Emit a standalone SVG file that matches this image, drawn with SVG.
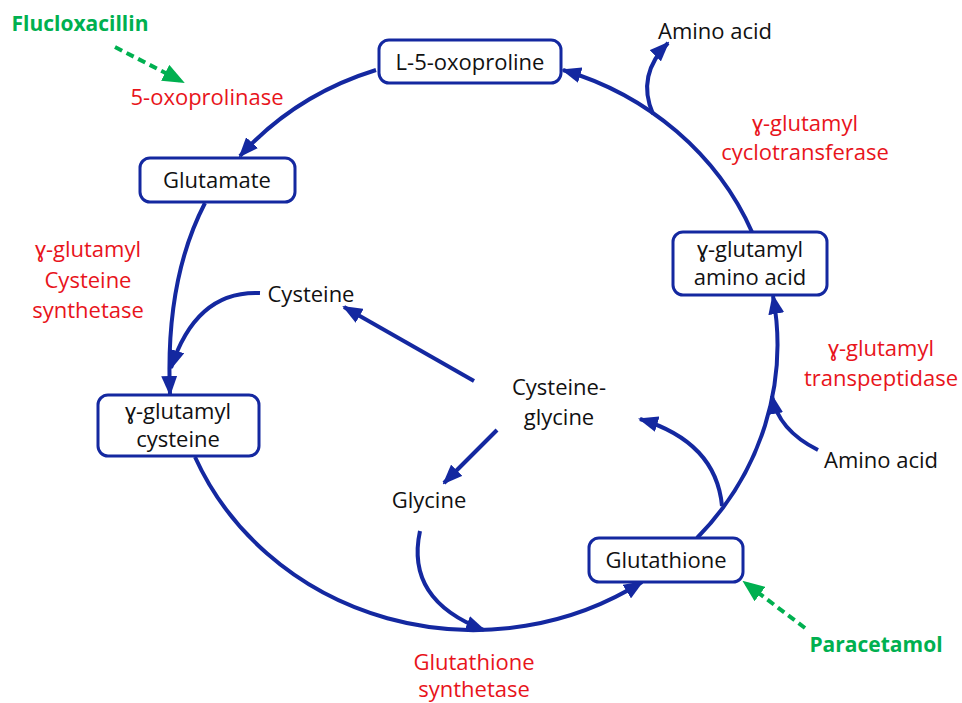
<svg xmlns="http://www.w3.org/2000/svg" width="962" height="703" viewBox="0 0 962 703">
<defs>
<style>
.t{font-family:"Open Sans","Liberation Sans",sans-serif;font-size:22px;fill:#111;text-anchor:middle}
.r{fill:#E8141B}
.g{fill:#00B050;font-weight:bold;font-size:21px}
.box{fill:#fff;stroke:#1428A0;stroke-width:3}
.c{fill:none;stroke:#1428A0;stroke-width:4}
.d{fill:none;stroke:#00B050;stroke-width:4;stroke-dasharray:8 5}
</style>
<marker id="ab" markerUnits="userSpaceOnUse" markerWidth="20" markerHeight="16" refX="18" refY="8" orient="auto"><path d="M0,0 L20,8 L0,16 z" fill="#1428A0"/></marker>
<marker id="ag" markerUnits="userSpaceOnUse" markerWidth="22" markerHeight="18" refX="20" refY="9" orient="auto"><path d="M0,0 L22,9 L0,18 z" fill="#00B050"/></marker>
</defs>
<rect width="962" height="703" fill="#fff"/>
<g id="connectors">
<path class="c" d="M195,457 A303,285 0 0 0 642,582" marker-end="url(#ab)"/>
<path class="c" d="M697,538 A303,285 0 0 0 773,296" marker-end="url(#ab)"/>
<path class="c" d="M752,232 A303,285 0 0 0 563,70" marker-end="url(#ab)"/>
<path class="c" d="M376,70 A303,285 0 0 0 240,156" marker-end="url(#ab)"/>
<path class="c" d="M205,203 Q165,280 170,394" marker-end="url(#ab)"/>
<path class="c" d="M653,114 Q636,75 668,43" marker-end="url(#ab)"/>
<path class="c" d="M818,450 Q778,430 772,396" marker-end="url(#ab)"/>
<path class="c" d="M260,293 Q196,290 171,368" marker-end="url(#ab)"/>
<path class="c" d="M474,381 L344,307" marker-end="url(#ab)"/>
<path class="c" d="M497,430 L444,483" marker-end="url(#ab)"/>
<path class="c" d="M420,531 Q405,600 484,630" marker-end="url(#ab)"/>
<path class="c" d="M722,506 Q716,442 640,419" marker-end="url(#ab)"/>
<path class="d" d="M115,47 L183,82" marker-end="url(#ag)"/>
<path class="d" d="M805,628 L744,582" marker-end="url(#ag)"/>
</g>
<g id="n-oxoproline"><rect class="box" x="379" y="40" width="182" height="43" rx="10"/><text class="t" x="470" y="70">L-5-oxoproline</text></g>
<g id="n-glutamate"><rect class="box" x="140" y="158" width="155" height="44" rx="10"/><text class="t" x="217" y="188">Glutamate</text></g>
<g id="n-gglucys"><rect class="box" x="98" y="395" width="161" height="61" rx="10"/><text class="t" x="178" y="419">ɣ-glutamyl</text><text class="t" x="178" y="447">cysteine</text></g>
<g id="n-gluaa"><rect class="box" x="673" y="232" width="154" height="63" rx="10"/><text class="t" x="750" y="257">ɣ-glutamyl</text><text class="t" x="750" y="285">amino acid</text></g>
<g id="n-glutathione"><rect class="box" x="589" y="538" width="154" height="44" rx="10"/><text class="t" x="666" y="568">Glutathione</text></g>
<g id="labels">
<text class="t g" x="80" y="31">Flucloxacillin</text>
<text class="t r" x="207" y="105">5-oxoprolinase</text>
<text class="t" x="715" y="39">Amino acid</text>
<text class="t r" x="805" y="131">ɣ-glutamyl</text>
<text class="t r" x="805" y="160">cyclotransferase</text>
<text class="t r" x="88" y="257">ɣ-glutamyl</text>
<text class="t r" x="88" y="288">Cysteine</text>
<text class="t r" x="88" y="318">synthetase</text>
<text class="t" x="311" y="302">Cysteine</text>
<text class="t" x="559" y="395">Cysteine-</text>
<text class="t" x="559" y="425">glycine</text>
<text class="t" x="429" y="508">Glycine</text>
<text class="t r" x="881" y="356">ɣ-glutamyl</text>
<text class="t r" x="881" y="386">transpeptidase</text>
<text class="t" x="881" y="468">Amino acid</text>
<text class="t g" x="876" y="652">Paracetamol</text>
<text class="t r" x="474" y="670">Glutathione</text>
<text class="t r" x="474" y="697">synthetase</text>
</g>
</svg>
